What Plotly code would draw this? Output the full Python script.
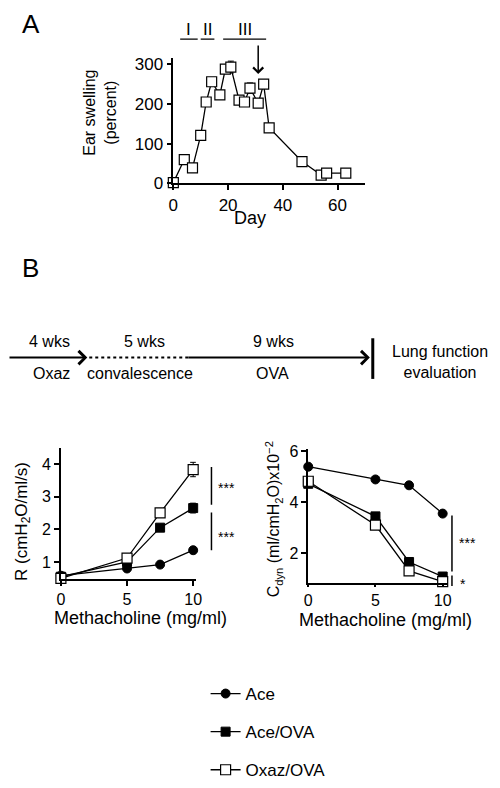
import plotly.graph_objects as go

# ---------------- data ----------------
# Panel A: ear swelling time course
days = [0, 4, 7, 10, 12, 14, 17, 19, 21, 24, 26, 28, 31, 33, 35, 47, 54, 56, 63]
swelling = [2, 60, 39, 121, 205, 256, 223, 288, 293, 210, 205, 240, 202, 250, 140, 55, 21, 26, 26]
swelling_err = [2, 2, 2, 3, 3, 3, 6, 6, 15, 3, 3, 13, 8, 6, 4, 2, 2, 2, 2]

phase_labels = ["I", "II", "III"]
phase_start = [2.5, 10.0, 18.2]
phase_end = [8.9, 15.0, 33.9]
arrow_day = 31

# Panel B: lung function
methacholine = [0, 5, 7.5, 10]
groups = ["Ace", "Ace/OVA", "Oxaz/OVA"]
R_ace = [0.58, 0.80, 0.92, 1.36]
R_ace_ova = [0.55, 1.00, 2.05, 2.65]
R_oxaz_ova = [0.50, 1.12, 2.50, 3.83]
R_err_ace = [0.02, 0.02, 0.02, 0.03]
R_err_ace_ova = [0.02, 0.03, 0.04, 0.15]
R_err_oxaz_ova = [0.02, 0.04, 0.05, 0.22]
C_ace = [5.39, 4.89, 4.66, 3.55]
C_ace_ova = [4.72, 3.44, 1.65, 1.08]
C_oxaz_ova = [4.82, 3.10, 1.30, 0.88]

timeline_top = ["4 wks", "5 wks", "9 wks"]
timeline_bottom = ["Oxaz", "convalescence", "OVA"]

# ---------------- figure ----------------
OFF = 8  # page body margin in the browser
W, H = 500 - OFF, 788 - OFF
FONT = "Liberation Sans, Arial, Helvetica, sans-serif"


def px(x):
    return (x - OFF) / W


def py(y):
    return 1 - (y - OFF) / H


fig = go.Figure()

styles = {
    "Ace": dict(symbol="circle", color="black", size=9, line=dict(color="black", width=1)),
    "Ace/OVA": dict(symbol="square", color="black", size=9, line=dict(color="black", width=1)),
    "Oxaz/OVA": dict(symbol="square", color="white", size=10, line=dict(color="black", width=1.2)),
}

# Panel A
fig.add_trace(go.Scatter(
    x=days, y=swelling, mode="lines+markers",
    error_y=dict(type="data", array=swelling_err, color="black", thickness=1, width=3),
    marker=dict(symbol="square", size=10, color="white", line=dict(width=1.2, color="black")),
    line=dict(color="black", width=1.3),
    xaxis="x", yaxis="y", showlegend=False, cliponaxis=False,
))

R_vals = {"Ace": R_ace, "Ace/OVA": R_ace_ova, "Oxaz/OVA": R_oxaz_ova}
R_err = {"Ace": R_err_ace, "Ace/OVA": R_err_ace_ova, "Oxaz/OVA": R_err_oxaz_ova}
C_vals = {"Ace": C_ace, "Ace/OVA": C_ace_ova, "Oxaz/OVA": C_oxaz_ova}

for g in groups:
    fig.add_trace(go.Scatter(
        x=methacholine, y=R_vals[g], mode="lines+markers", name=g,
        error_y=dict(type="data", array=R_err[g], color="black", thickness=1, width=3),
        marker=styles[g], line=dict(color="black", width=1.3),
        xaxis="x2", yaxis="y2", showlegend=True, legendgroup=g, cliponaxis=False,
    ))
for g in groups:
    fig.add_trace(go.Scatter(
        x=methacholine, y=C_vals[g], mode="lines+markers", name=g,
        marker=styles[g], line=dict(color="black", width=1.3),
        xaxis="x3", yaxis="y3", showlegend=False, legendgroup=g, cliponaxis=False,
    ))

axis_common = dict(
    showgrid=False, zeroline=False, showline=True, linecolor="black", linewidth=1.5,
    ticks="outside", ticklen=5, tickwidth=1.5, tickcolor="black",
    tickfont=dict(family=FONT, size=17, color="black"),
)
axis_b = dict(axis_common, tickfont=dict(family=FONT, size=16, color="black"))

fig.update_layout(
    width=W, height=H,
    margin=dict(l=0, r=0, t=0, b=0),
    paper_bgcolor="white", plot_bgcolor="white",
    font=dict(family=FONT, size=16, color="black"),
    xaxis=dict(domain=[px(172), px(368)], range=[0, 70], tickvals=[0, 20, 40, 60],
               anchor="y", **axis_common),
    yaxis=dict(domain=[py(183), py(53)], range=[0, 317], tickvals=[0, 100, 200, 300],
               anchor="x", **axis_common),
    xaxis2=dict(domain=[px(57), px(195)], range=[0, 10.2], tickvals=[0, 5, 10],
                anchor="y2", **axis_b),
    yaxis2=dict(domain=[py(592), py(456)], range=[0.47, 4.5], tickvals=[1, 2, 3, 4],
                anchor="x2", **axis_b),
    xaxis3=dict(domain=[px(310), px(453)], range=[0, 10.4], tickvals=[0, 5, 10],
                anchor="y3", **dict(axis_b, ticklen=2)),
    yaxis3=dict(domain=[py(596), py(457)], range=[0.82, 6.1], tickvals=[2, 4, 6],
                anchor="x3", **axis_b),
    legend=dict(x=px(205), y=py(692), xanchor="left", yanchor="top",
                traceorder="grouped", tracegroupgap=13,
                font=dict(family=FONT, size=17, color="black"),
                bgcolor="rgba(0,0,0,0)", itemwidth=30),
)

shapes = []
annotations = []


def text(t, x, y, size=16, angle=0, xref="paper"):
    annotations.append(dict(text=t, x=x if xref != "paper" else px(x), y=py(y), xref=xref, yref="paper",
                            showarrow=False, xanchor="center", yanchor="middle", textangle=angle,
                            font=dict(size=size, family=FONT, color="black")))


def arrow(x_tip, y_tip, dx, dy, width=1.5, xref="paper"):
    annotations.append(dict(text="", x=x_tip if xref != "paper" else px(x_tip), y=py(y_tip),
                            xref=xref, yref="paper", ax=dx, ay=dy, axref="pixel", ayref="pixel",
                            showarrow=True, arrowhead=4, arrowsize=1.3, arrowwidth=width,
                            arrowcolor="black"))


def seg(x0, y0, x1, y1, width=1.5, dash="solid", xref="paper"):
    shapes.append(dict(type="line", xref=xref, yref="paper",
                       x0=x0 if xref != "paper" else px(x0), x1=x1 if xref != "paper" else px(x1),
                       y0=py(y0), y1=py(y1), line=dict(color="black", width=width, dash=dash)))


# Panel letters
text("A", 26, 18, size=26)
text("B", 26, 270, size=26)

# Axis titles
text("Ear swelling<br>(percent)", 97, 110, size=16, angle=-90)
text("Day", 250, 219, size=18)
text("R (cmH<sub>2</sub>O/ml/s)", 18, 532, size=17, angle=-90)
text("Methacholine (mg/ml)", 138, 632, size=18)
text("C<sub>dyn</sub> (ml/cmH<sub>2</sub>O)x10<sup>\u22122</sup>", 275, 530, size=16, angle=-90)
text("Methacholine (mg/ml)", 389, 634, size=18)

# Phase bars in panel A
for lab, s, e in zip(phase_labels, phase_start, phase_end):
    seg(s, 34, e, 34, width=1.3, xref="x")
    text(lab, (s + e) / 2, 24, size=17, xref="x")

# Arrow in panel A
arrow(arrow_day, 70, 0, -30, width=1.5, xref="x")

# Timeline
arrow(84, 363, -80, 0, width=2)
seg(86, 363, 190, 363, width=2, dash="dot")
arrow(373, 363, -183, 0, width=2)
seg(376, 343, 376, 385, width=3)
for t, xx in zip(timeline_top, [45, 143, 274]):
    text(t, xx, 346, size=16)
for t, xx in zip(timeline_bottom, [47, 138, 273]):
    text(t, xx, 379, size=16)
text("Lung function<br>evaluation", 445, 368, size=16)

# Significance markers
sig = [
    (211, 476, 515, "***", 226, 498),
    (211, 523, 562, "***", 226, 548),
    (457, 526, 584, "***", 473, 554),
    (457, 588, 599, "*", 468, 597),
]
for x0, ya, yb, t, tx, ty in sig:
    seg(x0, ya, x0, yb, width=1.5)
    text(t, tx, ty, size=14)

fig.update_layout(shapes=shapes, annotations=annotations)

fig.write_html("out.html")
